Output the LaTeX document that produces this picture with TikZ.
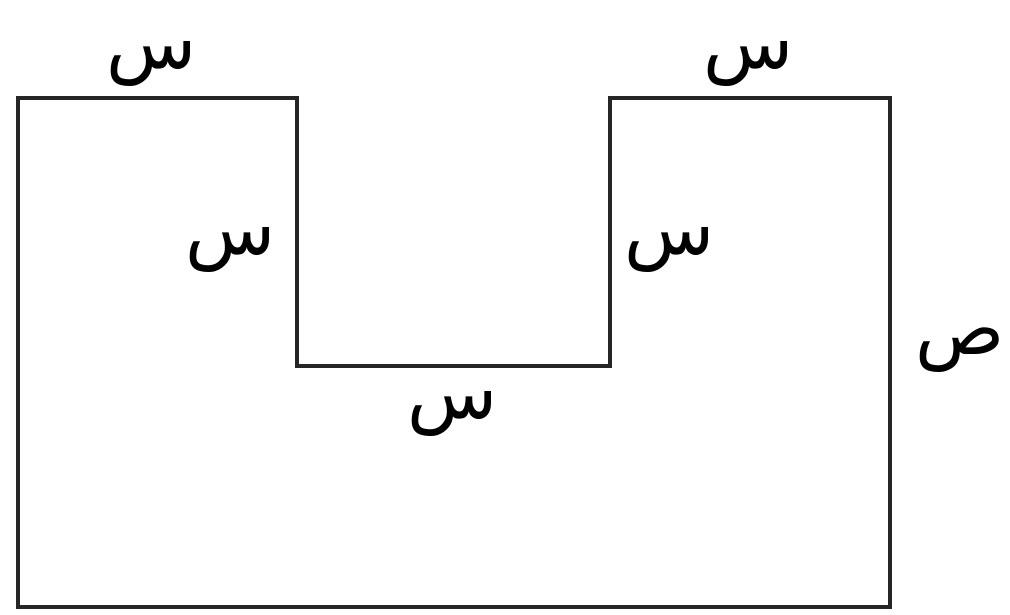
\documentclass[tikz,border=0pt]{standalone}
\usepackage{fontspec}
\newfontfamily\arabicfont[Script=Arabic]{DejaVu Sans}
\TeXXeTstate=1
\usetikzlibrary{calc}

\begin{document}
\begin{tikzpicture}[letter/.style={font=\arabicfont\fontsize{21}{25}\selectfont, inner sep=0pt}]

        \useasboundingbox (0,0) rectangle (10.1,6.14);

        \coordinate (A) at (0.18,5.16);
        \coordinate (B) at (2.97,5.16);
        \coordinate (C) at (2.97,2.48);
        \coordinate (D) at (6.10,2.48);
        \coordinate (E) at (6.10,5.16);
        \coordinate (F) at (8.90,5.16);
        \coordinate (G) at (8.90,0.07);
        \coordinate (H) at (0.18,0.07);

        \draw [line width=1.1pt, black!85, line join=miter] (A) -- (B) -- (C) -- (D) -- (E) -- (F) -- (G) -- (H) -- cycle;

        \foreach \n/\p/\t in
        {sa/{(1.52,5.50)}/س,
         sb/{(7.49,5.50)}/س,
         sc/{(2.31,3.64)}/س,
         sd/{(6.70,3.64)}/س,
         se/{(4.53,2.00)}/س,
         sad/{(9.48,2.64)}/ص
        }
        {
            \node[letter] (\n) at \p {\beginR\t\endR};
        };
    \end{tikzpicture}
\end{document}
